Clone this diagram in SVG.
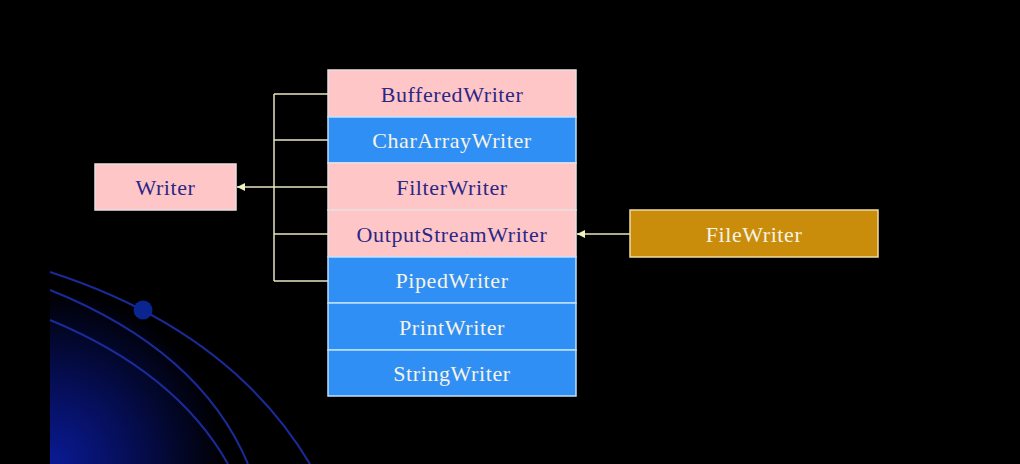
<svg xmlns="http://www.w3.org/2000/svg" width="1020" height="464" viewBox="0 0 1020 464">
<defs>
<radialGradient id="glow" cx="50" cy="464" r="175" gradientUnits="userSpaceOnUse">
<stop offset="0" stop-color="#0a1a96"/>
<stop offset="0.5" stop-color="#050d50"/>
<stop offset="1" stop-color="#000000"/>
</radialGradient>
<marker id="arr" viewBox="0 0 8 8" refX="8" refY="4" markerWidth="8" markerHeight="8" orient="auto" markerUnits="userSpaceOnUse">
<path d="M8,0 L0,4 L8,8 Z" fill="#f0f0c0" transform="rotate(180 4 4)"/>
</marker>
<style>
.pink{fill:#ffc6c8;stroke:#e8e0e0;stroke-width:1.5}
.blue{fill:#2f8ff4;stroke:#bfe0ff;stroke-width:1.5}
.gold{fill:#c98d0b;stroke:#f0dca0;stroke-width:1.5}
.tp{font-family:"Liberation Serif",serif;font-size:22px;letter-spacing:0.6px;fill:#2b2785;text-anchor:middle}
.tw{font-family:"Liberation Serif",serif;font-size:22px;letter-spacing:0.6px;fill:#f6f3e6;text-anchor:middle}
.ln{stroke:#e8e6c0;stroke-width:1.5;fill:none}
.arc{stroke:#1a2a98;stroke-width:2;fill:none}
</style>
</defs>
<rect width="1020" height="464" fill="#000"/>
<rect x="50" y="280" width="200" height="184" fill="url(#glow)"/>
<g id="decor">
<path class="arc" d="M50,272 Q230,330 310,464"/>
<path class="arc" d="M50,290 Q200,350 248,464"/>
<path class="arc" d="M50,320 Q176,372 228,464"/>
<circle cx="143" cy="310" r="9.5" fill="#0a2590"/>
</g>
<g id="connectors">
<path class="ln" d="M274,94 V281"/>
<path class="ln" d="M274,94 H328 M274,140 H328 M274,234 H328 M274,281 H328 M274,187 H328"/>
<path class="ln" d="M274,187 H237" marker-end="url(#arr)"/>
<path class="ln" d="M630,234 H577" marker-end="url(#arr)"/>
</g>
<g id="writer"><rect class="pink" x="95" y="164" width="141" height="46"/><text class="tp" x="165.5" y="195">Writer</text></g>
<g id="bufferedwriter"><rect class="pink" x="328" y="70" width="248" height="47"/><text class="tp" x="452" y="102">BufferedWriter</text></g>
<g id="chararraywriter"><rect class="blue" x="328" y="117" width="248" height="46"/><text class="tw" x="452" y="148">CharArrayWriter</text></g>
<g id="filterwriter"><rect class="pink" x="328" y="163" width="248" height="47"/><text class="tp" x="452" y="195">FilterWriter</text></g>
<g id="outputstreamwriter"><rect class="pink" x="328" y="210" width="248" height="47"/><text class="tp" x="452" y="242">OutputStreamWriter</text></g>
<g id="pipedwriter"><rect class="blue" x="328" y="257" width="248" height="46"/><text class="tw" x="452" y="288">PipedWriter</text></g>
<g id="printwriter"><rect class="blue" x="328" y="303" width="248" height="47"/><text class="tw" x="452" y="335">PrintWriter</text></g>
<g id="stringwriter"><rect class="blue" x="328" y="350" width="248" height="46"/><text class="tw" x="452" y="381">StringWriter</text></g>
<g id="filewriter"><rect class="gold" x="630" y="210" width="248" height="47"/><text class="tw" x="754" y="242">FileWriter</text></g>
</svg>
